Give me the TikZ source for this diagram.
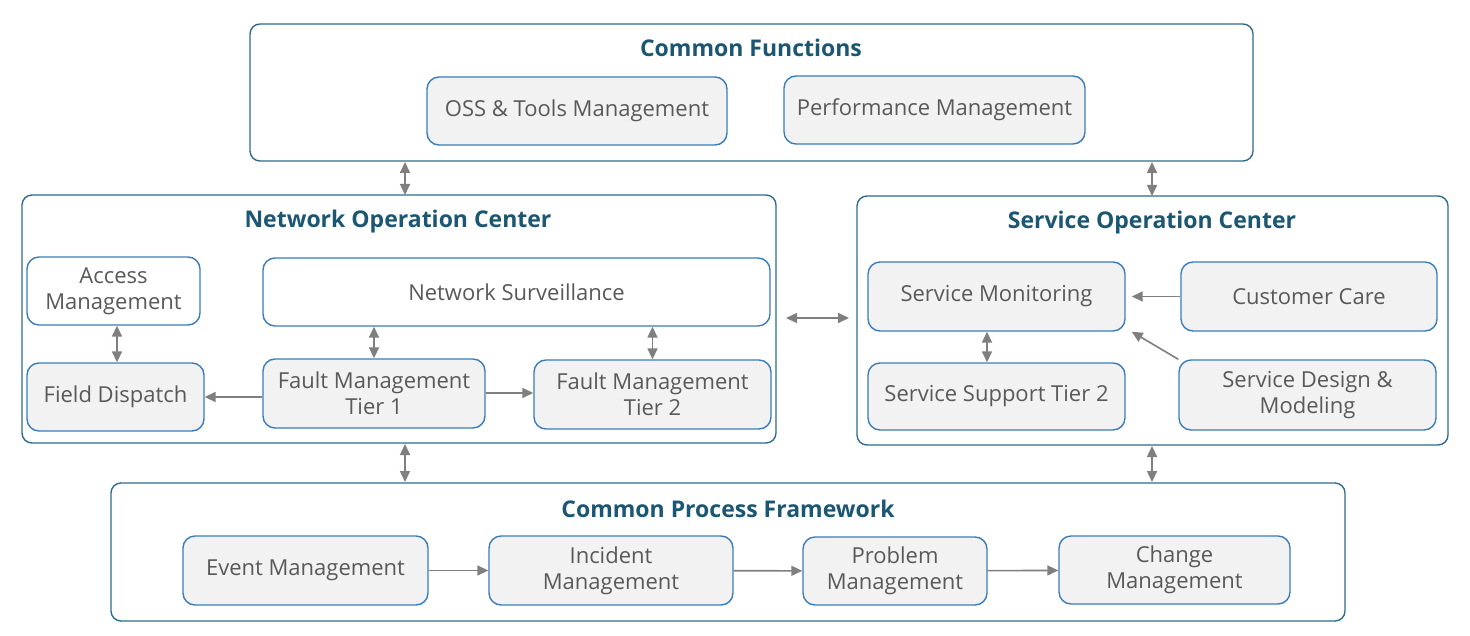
\documentclass[tikz,border=0pt]{standalone}
\usepackage{fontspec}
\setmainfont{Open Sans}
\usetikzlibrary{arrows.meta}
\definecolor{framecol}{HTML}{2F6C8C}
\definecolor{titlecol}{HTML}{1B5673}
\definecolor{boxcol}{HTML}{3A7DBA}
\definecolor{fillcol}{HTML}{F2F2F2}
\definecolor{textcol}{HTML}{595959}
\definecolor{arrcol}{HTML}{7F7F7F}
\newcommand{\titlesize}{\fontsize{11.5}{13.5}\selectfont\bfseries}
\newcommand{\boxsize}{\fontsize{11}{13}\selectfont}

\tikzset{
  frame/.style={draw=framecol, line width=0.7pt, rounded corners=5pt, fill=white},
  grp title/.style={text=titlecol, font=\titlesize},
  item/.style={draw=boxcol, line width=0.7pt, rounded corners=6pt, fill=fillcol,
    text=textcol, font=\boxsize, align=center, inner sep=0pt},
  plain item/.style={item, fill=white},
  link/.style={draw=arrcol, line width=0.8pt, -{Triangle[length=5.5pt,width=5pt]}},
  both link/.style={link, {Triangle[length=5.5pt,width=5pt]}-{Triangle[length=5.5pt,width=5pt]}}
}

\begin{document}
\begin{tikzpicture}[x=0.5pt, y=-0.5pt]
    \useasboundingbox (0,0) rectangle (1470,636);

    % common functions
    \draw[frame] (250,24) rectangle (1253,161);
    \node[grp title] (cftitle) at (751,48) {Common Functions};
    \node[item, minimum width=150pt, minimum height=34pt] (oss) at (577,111) {OSS \& Tools Management};
    \node[item, minimum width=150.5pt, minimum height=34pt] (perf) at (934.5,110) {Performance Management};

    % network operation center
    \draw[frame] (22,195) rectangle (776,443);
    \node[grp title] (noctitle) at (398,222) {Network Operation Center};
    \node[plain item, minimum width=86.5pt, minimum height=34pt] (access) at (113.5,291) {Access\\Management};
    \node[plain item, minimum width=253.5pt, minimum height=34pt] (surv) at (516.5,292) {Network Surveillance};
    \node[item, minimum width=88.5pt, minimum height=34pt] (field) at (115.5,397) {Field Dispatch};
    \node[item, minimum width=111pt, minimum height=34.5pt] (fmone) at (374,393.5) {Fault Management\\Tier 1};
    \node[item, minimum width=118.5pt, minimum height=34.5pt] (fmtwo) at (652.5,394.5) {Fault Management\\Tier 2};

    % service operation center
    \draw[frame] (857,196) rectangle (1448,445);
    \node[grp title] (soctitle) at (1152,223) {Service Operation Center};
    \node[item, minimum width=128.5pt, minimum height=34.5pt] (monit) at (996.5,296.5) {Service Monitoring};
    \node[item, minimum width=128pt, minimum height=34.5pt] (care) at (1309,296.5) {Customer Care};
    \node[item, minimum width=128.5pt, minimum height=33.5pt] (support) at (996.5,396.5) {Service Support Tier 2};
    \node[item, minimum width=128.5pt, minimum height=35pt] (design) at (1307.5,395) {Service Design \&\\Modeling};

    % common process framework
    \draw[frame] (111,483) rectangle (1345,621);
    \node[grp title] (cpftitle) at (728,509) {Common Process Framework};
    \node[item, minimum width=122.5pt, minimum height=34.5pt] (event) at (305.5,570.5) {Event Management};
    \node[item, minimum width=122pt, minimum height=34.5pt] (incident) at (611,570.5) {Incident\\Management};
    \node[item, minimum width=92pt, minimum height=34pt] (problem) at (895,571) {Problem\\Management};
    \node[item, minimum width=115.5pt, minimum height=34pt] (change) at (1174.5,570) {Change\\Management};

    % links between the groups
    \coordinate (cfa) at (405,162);  \coordinate (noca) at (405,195);
    \coordinate (cfb) at (1152,162); \coordinate (soca) at (1152,196);
    \coordinate (nocb) at (405,444); \coordinate (cpfa) at (405,482);
    \coordinate (socb) at (1152,446); \coordinate (cpfb) at (1152,482);
    \coordinate (nocc) at (786,318); \coordinate (socc) at (849,318);
    \draw[both link] (cfa) -- (noca);
    \draw[both link] (cfb) -- (soca);
    \draw[both link] (nocb) -- (cpfa);
    \draw[both link] (socb) -- (cpfb);
    \draw[both link] (nocc) -- (socc);

    % links inside noc
    \draw[both link] (access.south -| 117,0) -- (field.north -| 117,0);
    \draw[both link] (surv.south -| fmone) -- (fmone.north);
    \draw[both link] (surv.south -| fmtwo) -- (fmtwo.north);
    \draw[link] (fmone.west |- field) -- (field.east);
    \draw[link] (fmone.east |- 0,393) -- (fmtwo.west |- 0,393);

    % links inside soc
    \draw[both link] (monit.south -| 987,0) -- (support.north -| 987,0);
    \draw[link] (care.west) -- ([xshift=3pt]monit.east);
    \draw[link] (design.north west) -- ([xshift=3pt]monit.south east);

    % process chain
    \draw[link] (event) -- (incident);
    \draw[link] (incident) -- (problem);
    \draw[link] (problem) -- (change);
\end{tikzpicture}
\end{document}
